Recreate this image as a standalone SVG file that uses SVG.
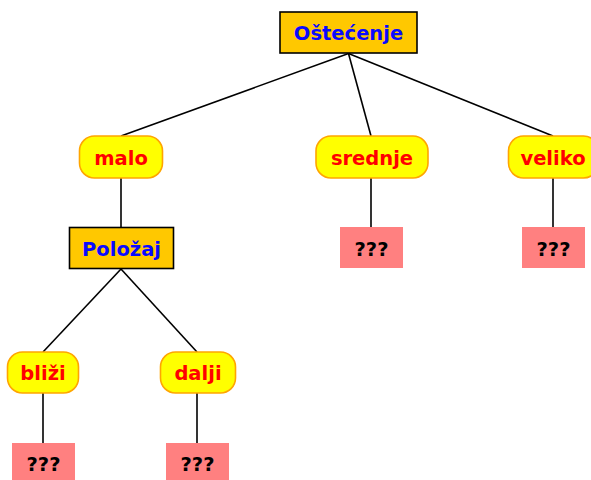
<svg xmlns="http://www.w3.org/2000/svg" width="591" height="480" viewBox="0 0 591 480">
  <style>
    text { font-family: "DejaVu Sans", "Liberation Sans", sans-serif; font-weight: bold; font-size: 19.5px; text-anchor: middle; dominant-baseline: central; }
    .attr rect { fill: #ffc800; stroke: #000000; stroke-width: 1.6; }
    .attr text { fill: #0a0aff; }
    .val rect { fill: #ffff00; stroke: #ffa500; stroke-width: 1.6; }
    .val text { fill: #ff0000; }
    .leaf rect { fill: #ff8080; stroke: none; }
    .leaf text { fill: #000000; }
    #connectors line { stroke: #000000; stroke-width: 1.6; }
  </style>

  <g id="connectors">
    <line x1="348.5" y1="53.5" x2="121" y2="136"/>
    <line x1="348.5" y1="53.5" x2="371" y2="136"/>
    <line x1="348.5" y1="53.5" x2="553" y2="136"/>
    <line x1="121" y1="178" x2="121" y2="227"/>
    <line x1="371" y1="178" x2="371" y2="227"/>
    <line x1="553" y1="178" x2="553" y2="227"/>
    <line x1="121" y1="269" x2="43" y2="352"/>
    <line x1="121" y1="269" x2="197" y2="352"/>
    <line x1="43" y1="393" x2="43" y2="443"/>
    <line x1="197" y1="393" x2="197" y2="443"/>
  </g>

  <g id="ostecenje" class="attr">
    <rect x="280" y="12" width="137" height="41"/>
    <text x="348.5" y="33.5">Oštećenje</text>
  </g>

  <g id="malo" class="val">
    <rect x="79.5" y="136" width="83" height="42" rx="15"/>
    <text x="121" y="158.5">malo</text>
  </g>
  <g id="srednje" class="val">
    <rect x="316" y="136" width="112" height="42" rx="15"/>
    <text x="372" y="158.5">srednje</text>
  </g>
  <g id="veliko" class="val">
    <rect x="508.5" y="136" width="90" height="42" rx="15"/>
    <text x="553" y="158.5">veliko</text>
  </g>

  <g id="polozaj" class="attr">
    <rect x="69.5" y="227.5" width="104" height="41"/>
    <text x="121.5" y="249.5">Položaj</text>
  </g>

  <g id="srednje-leaf" class="leaf">
    <rect x="340" y="227" width="63" height="41"/>
    <text x="371.5" y="249">???</text>
  </g>
  <g id="veliko-leaf" class="leaf">
    <rect x="522" y="227" width="63" height="41"/>
    <text x="553.5" y="249">???</text>
  </g>

  <g id="blizi" class="val">
    <rect x="7.5" y="352" width="71" height="41" rx="15"/>
    <text x="43" y="373.5">bliži</text>
  </g>
  <g id="dalji" class="val">
    <rect x="160.5" y="352" width="75" height="41" rx="15"/>
    <text x="198" y="373.5">dalji</text>
  </g>

  <g id="blizi-leaf" class="leaf">
    <rect x="12" y="443" width="63" height="41"/>
    <text x="43.5" y="464.5">???</text>
  </g>
  <g id="dalji-leaf" class="leaf">
    <rect x="166" y="443" width="63" height="41"/>
    <text x="197.5" y="464.5">???</text>
  </g>
</svg>
